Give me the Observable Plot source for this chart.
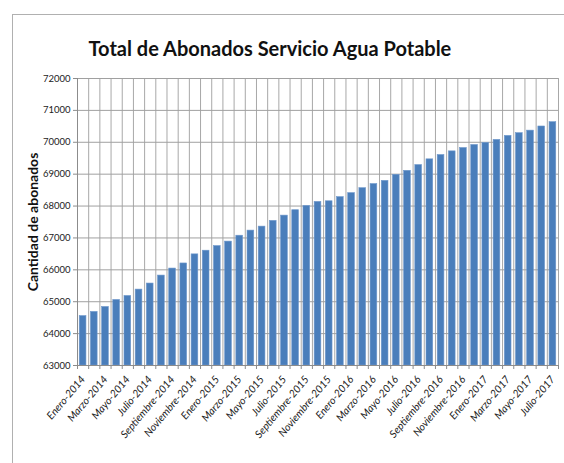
<!DOCTYPE html>
<html>
<head>
<meta charset="utf-8">
<script src="https://cdn.jsdelivr.net/npm/d3@7"></script>
<script src="https://cdn.jsdelivr.net/npm/@observablehq/plot@0.6"></script>
<style>
  html, body { margin: 0; padding: 0; background: #fff; }
  #wrap { position: relative; width: 564px; height: 463px; overflow: hidden; }
  #border { position: absolute; left: 12px; top: 14px; width: 700px; height: 600px;
            border-left: 1.5px solid #b0b0b0; border-top: 1.5px solid #b0b0b0; }
  #chart { position: absolute; left: 0; top: 0; }
</style>
</head>
<body>
<div id="wrap"><div id="border"></div><div id="chart"></div></div>
<script>
const title = "Total de Abonados Servicio Agua Potable";
const yTitle = "Cantidad de abonados";
const monthNames = ["Enero","Febrero","Marzo","Abril","Mayo","Junio","Julio","Agosto","Septiembre","Octubre","Noviembre","Diciembre"];
const years = [2014, 2015, 2016, 2017];
const values = [
  64550, 64680, 64835, 65055, 65180, 65380, 65570, 65820, 66040, 66200,
  66485, 66600, 66745, 66885, 67070, 67230, 67355, 67535, 67700, 67870,
  68005, 68130, 68150, 68280, 68405, 68560, 68690, 68790, 68980, 69105,
  69285, 69465, 69600, 69715, 69820, 69915, 69980, 70075, 70200, 70285,
  70365, 70495, 70630
];
const yTicks = [63000, 64000, 65000, 66000, 67000, 68000, 69000, 70000, 71000, 72000];

const categories = [];
for (const y of years) for (const m of monthNames) categories.push(`${m}-${y}`);
categories.length = values.length;

const data = values.map((v, i) => ({i, label: categories[i], value: v}));
const yMin = yTicks[0], yMax = yTicks[yTicks.length - 1];
const boundaries = d3.range(0, categories.length + 1);
const labelTicks = d3.range(0, categories.length, 2).map(i => i + 0.5);

const font = "Lato, 'Open Sans', sans-serif";

const chart = Plot.plot({
  width: 564,
  height: 463,
  marginLeft: 77,
  marginRight: 6,
  marginTop: 78,
  marginBottom: 98,
  style: {fontFamily: font, color: "#222", background: "transparent"},
  x: {type: "linear", domain: [0, categories.length]},
  y: {domain: [yMin, yMax]},
  marks: [
    Plot.gridX(boundaries, {stroke: "#a8a8a8", strokeOpacity: 1}),
    Plot.gridY(yTicks, {stroke: "#a0a0a0", strokeOpacity: 1}),
    Plot.rectY(data, {x1: d => d.i + 0.2, x2: d => d.i + 0.8, y1: yMin, y2: "value", fill: "#4a7ebb", stroke: "#6f98cc", strokeWidth: 0.6}),
    Plot.ruleY([yMin], {stroke: "#8c8c8c"}),
    Plot.ruleX([0], {stroke: "#8c8c8c"}),
    Plot.axisY({ticks: yTicks, tickFormat: d => String(d), tickSize: 4, tickPadding: 3, fontSize: 9.5, label: null, stroke: "#8c8c8c"}),
    Plot.axisX({ticks: boundaries, tickFormat: () => "", tickSize: 4, label: null, stroke: "#8c8c8c"}),
    Plot.axisX({ticks: labelTicks, tickFormat: d => categories[Math.round(d - 0.5)], tickRotate: -50, tickSize: 0, tickPadding: 12, fontSize: 10.5, fontStyle: "italic", label: null}),
    Plot.text([yTitle], {frameAnchor: "left", textAnchor: "middle", rotate: -90, dx: -44, fontSize: 14, fontWeight: "bold", fill: "#111"}),
    Plot.text([title], {frameAnchor: "top-left", textAnchor: "start", lineAnchor: "bottom", dx: 11, dy: -23, fontSize: 20, fontWeight: "bold", fill: "#111"})
  ]
});
document.getElementById("chart").appendChild(chart);
</script>
</body>
</html>
